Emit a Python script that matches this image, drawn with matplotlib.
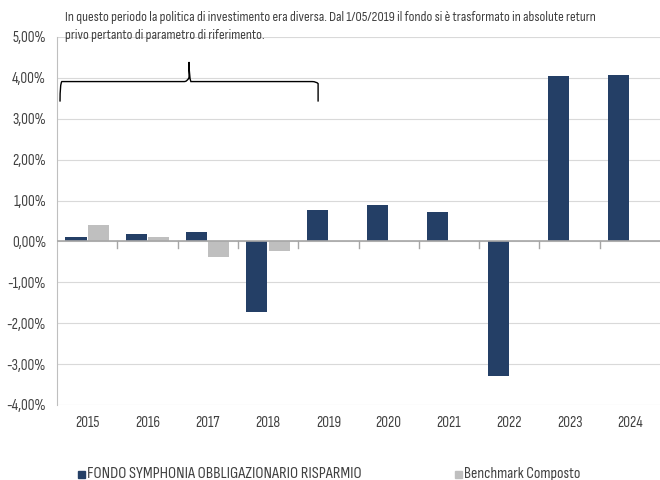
import numpy as np
import matplotlib.pyplot as plt
from matplotlib.path import Path
from matplotlib.patches import PathPatch, Rectangle
from matplotlib.ticker import FuncFormatter

plt.rcParams['font.family'] = ['Sofia Sans Condensed', 'Sofia Sans Semi Condensed', 'DejaVu Sans']

years = ['2015', '2016', '2017', '2018', '2019', '2020', '2021', '2022', '2023', '2024']
fondo = [0.12, 0.19, 0.23, -1.72, 0.78, 0.90, 0.71, -3.30, 4.04, 4.06]
benchmark = [0.39, 0.12, -0.37, -0.23, np.nan, np.nan, np.nan, np.nan, np.nan, np.nan]

navy = '#243f66'
grey = '#bfbfbf'
txt = '#404040'

fig = plt.figure(figsize=(6.6, 4.8), dpi=100)
ax = fig.add_axes([57 / 660, 1 - 405 / 480, 603 / 660, 368 / 480])

x = np.arange(len(years))
w = 0.35
ax.bar(x - w / 2 - 0.01, fondo, w, color=navy, zorder=3)
ax.bar(x + w / 2 + 0.01, benchmark, w, color=grey, zorder=3)

ax.set_xlim(-0.5, len(years) - 0.5)
ax.set_ylim(-4, 5)
ax.set_yticks(np.arange(-4, 6, 1))
ax.yaxis.set_major_formatter(FuncFormatter(lambda v, p: f'{v:.2f}%'.replace('.', ',')))
ax.grid(axis='y', color='#d9d9d9', linewidth=0.8, zorder=0)
ax.tick_params(axis='y', length=0, labelsize=11, colors=txt, pad=8)
ax.set_xticks([])
for s in ['top', 'right', 'bottom']:
    ax.spines[s].set_visible(False)
ax.spines['left'].set_color('#bfbfbf')

# zero axis with category ticks
ax.axhline(0, color='#a6a6a6', linewidth=1.2, zorder=4)
for b in np.arange(0.5, len(years) - 0.5, 1):
    ax.plot([b, b], [0, -0.15], color='#a6a6a6', linewidth=1, zorder=4, clip_on=False)

# year labels under the plot
for i, yr in enumerate(years):
    ax.text(i, -4.28, yr, ha='center', va='top', fontsize=11, color=txt)

# brace over 2015-2019
x0, x1, xm = -0.45, 3.83, 1.69
yb, yh, yt = 3.42, 3.91, 4.39
verts = [(x0, yb), (x0, yh - 0.05), (x0 + 0.03, yh), (x0 + 0.1, yh),
         (xm - 0.08, yh), (xm - 0.03, yh), (xm, yh + 0.1), (xm, yt),
         (xm, yh + 0.1), (xm + 0.03, yh), (xm + 0.08, yh),
         (x1 - 0.1, yh), (x1 - 0.03, yh), (x1, yh - 0.05), (x1, yb)]
codes = [Path.MOVETO, Path.CURVE3, Path.CURVE3, Path.LINETO,
         Path.LINETO, Path.CURVE3, Path.CURVE3, Path.LINETO,
         Path.CURVE3, Path.CURVE3, Path.LINETO,
         Path.LINETO, Path.CURVE3, Path.CURVE3, Path.LINETO]
ax.add_patch(PathPatch(Path(verts, codes), fill=False, edgecolor='black', linewidth=1, zorder=5))

fig.text(65 / 660, 1 - 17 / 480,
         'In questo periodo la politica di investimento era diversa. Dal 1/05/2019 il fondo si è trasformato in absolute return',
         fontsize=10.2, color=txt, va='center')
fig.text(65 / 660, 1 - 36 / 480, 'privo pertanto di parametro di riferimento.',
         fontsize=10.2, color=txt, va='center')

# legend
fig.patches.append(Rectangle((78 / 660, 1 - 478 / 480), 7 / 660, 7 / 480,
                             transform=fig.transFigure, color=navy))
fig.text(87 / 660, 1 - 474 / 480, 'FONDO SYMPHONIA OBBLIGAZIONARIO RISPARMIO',
         fontsize=11.8, color=txt, va='center')
fig.patches.append(Rectangle((455 / 660, 1 - 478 / 480), 7 / 660, 7 / 480,
                             transform=fig.transFigure, color=grey))
fig.text(464 / 660, 1 - 474 / 480, 'Benchmark Composto',
         fontsize=11.3, color=txt, va='center')

fig.savefig('out.png', dpi=100)
